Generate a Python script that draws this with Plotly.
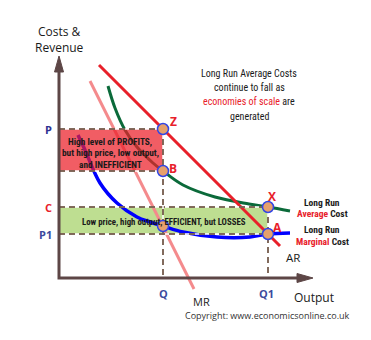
import plotly.graph_objects as go

# Price / cost levels and output levels (chart units)
P_LEVEL = 149
C_LEVEL = 71
P1_LEVEL = 44
Q_OUT = 104
Q1_OUT = 209

# Average revenue (demand) and marginal revenue lines
ar_x = [40, 221]
ar_y = [213, 32]
mr_x = [31, 135]
mr_y = [197, -11]

# Long run average cost
lrac_x = [49, 56, 66, 78, 94, 104, 124, 156, 190, 209, 231]
lrac_y = [192, 170, 148, 131, 115, 107, 93, 81, 74, 71, 67]

# Long run marginal cost
lrmc_x = [19, 26, 41, 58, 78, 91, 104, 124, 158, 191, 209, 231]
lrmc_y = [143, 128, 95, 75, 61, 56, 52, 46, 41, 41, 44, 45]

# Labelled points
pt_x = [Q_OUT, Q_OUT, Q_OUT, Q1_OUT, Q1_OUT]
pt_y = [P_LEVEL, 107, 52, C_LEVEL, P1_LEVEL]

AX_COL = "#5d4646"
DASH_COL = "#5a3b28"
RED = "#e8202a"
NAVY = "#2e3192"
BLUE_LBL = "#3b4a9e"
NARROW = "Roboto Condensed, DejaVu Sans Condensed, sans-serif"
REG = "Open Sans, DejaVu Sans, sans-serif"

fig = go.Figure()

# Loss-making region (green) sits under the curves
fig.add_trace(go.Scatter(
    x=[0, Q1_OUT, Q1_OUT, 0, 0], y=[C_LEVEL, C_LEVEL, P1_LEVEL, P1_LEVEL, C_LEVEL],
    fill="toself", fillcolor="#bede91", line=dict(width=0), mode="lines",
    hoverinfo="skip"))

fig.add_trace(go.Scatter(x=mr_x, y=mr_y, mode="lines",
                         line=dict(color="#f48a8c", width=3), hoverinfo="skip"))
fig.add_trace(go.Scatter(x=lrac_x, y=lrac_y, mode="lines",
                         line=dict(color="#0b6a3a", width=3, shape="spline"), hoverinfo="skip"))
fig.add_trace(go.Scatter(x=lrmc_x, y=lrmc_y, mode="lines",
                         line=dict(color="#0000ff", width=3.5, shape="spline"), hoverinfo="skip"))
fig.add_trace(go.Scatter(x=ar_x, y=ar_y, mode="lines",
                         line=dict(color=RED, width=3), hoverinfo="skip"))

# Profit region (red) drawn semi-transparent over the curves
fig.add_trace(go.Scatter(
    x=[0, Q_OUT, Q_OUT, 0, 0], y=[P_LEVEL, P_LEVEL, 107, 107, P_LEVEL],
    fill="toself", fillcolor="rgba(236,30,40,0.72)", line=dict(width=0), mode="lines",
    hoverinfo="skip"))

# Dashed guide lines: white underlay + brown dashes
guides = [
    ([0, Q_OUT], [P_LEVEL, P_LEVEL]),
    ([0, Q_OUT], [107, 107]),
    ([0, Q1_OUT], [C_LEVEL, C_LEVEL]),
    ([0, Q1_OUT], [P1_LEVEL, P1_LEVEL]),
    ([Q_OUT, Q_OUT], [P_LEVEL, 0]),
    ([Q1_OUT, Q1_OUT], [C_LEVEL, 0]),
]
for gx, gy in guides:
    fig.add_trace(go.Scatter(x=gx, y=gy, mode="lines",
                             line=dict(color="white", width=1.5), hoverinfo="skip"))
    fig.add_trace(go.Scatter(x=gx, y=gy, mode="lines",
                             line=dict(color=DASH_COL, width=1.5, dash="6px,4px"), hoverinfo="skip"))

# Axes with arrowheads
fig.add_trace(go.Scatter(x=[0, 0, 241], y=[207, 0, 0], mode="lines",
                         line=dict(color=AX_COL, width=3), hoverinfo="skip"))
fig.add_trace(go.Scatter(x=[-4.5, 0, 4.5, -4.5], y=[206, 222, 206, 206], mode="lines",
                         fill="toself", fillcolor=AX_COL, line=dict(color=AX_COL, width=1),
                         hoverinfo="skip"))
fig.add_trace(go.Scatter(x=[238, 254, 238, 238], y=[4.5, 0, -4.5, 4.5], mode="lines",
                         fill="toself", fillcolor=AX_COL, line=dict(color=AX_COL, width=1),
                         hoverinfo="skip"))

# Labelled points
fig.add_trace(go.Scatter(x=pt_x, y=pt_y, mode="markers",
                         marker=dict(size=11, color="#e6a06c",
                                     line=dict(color="#3246e6", width=1.5)),
                         hoverinfo="skip"))

ann = []


def txt(x, y, text, size, color="#1a1a1a", family=REG, xanchor="center", yanchor="middle"):
    ann.append(dict(x=x, y=y, xref="x", yref="y", text=text, showarrow=False,
                    font=dict(size=size, color=color, family=family),
                    xanchor=xanchor, yanchor=yanchor))


txt(0, 246.5, "Costs &", 12)
txt(0, 231, "Revenue", 12)
txt(-11, P_LEVEL, "<b>P</b>", 11, NAVY)
txt(-11, C_LEVEL, "<b>C</b>", 11, RED)
txt(-14, P1_LEVEL, "<b>P1</b>", 11, BLUE_LBL)
txt(Q_OUT, -15, "<b>Q</b>", 11, BLUE_LBL)
txt(Q1_OUT - 2, -15, "<b>Q1</b>", 11, BLUE_LBL)
txt(255, -19, "Output", 12)
txt(142, -23, "MR", 11)
txt(234, 21, "AR", 11.5)
txt(208, -37, "Copyright: www.economicsonline.co.uk", 9, "#333333")

for name, px, py, dx, dy in [("Z", Q_OUT, P_LEVEL, 10, 8), ("B", Q_OUT, 107, 10, 3),
                             ("X", Q1_OUT, C_LEVEL, 4, 11), ("A", Q1_OUT, P1_LEVEL, 9, 7)]:
    txt(px + dx, py + dy, f"<b>{name}</b>", 12, RED)

# Curve captions
txt(263, 76, "<b>Long Run</b>", 9.5, family=NARROW)
txt(263, 64.5, f"<b><span style='color:{RED}'>Average</span> Cost</b>", 9.5, family=NARROW)
txt(263, 48.5, "<b>Long Run</b>", 9.5, family=NARROW)
txt(263, 37, f"<b><span style='color:{RED}'>Marginal</span> Cost</b>", 9.5, family=NARROW)

# Notes
txt(190, 205, "Long Run Average Costs", 10, family=NARROW)
txt(190, 191, "continue to fall as", 10, family=NARROW)
txt(190, 176.5, f"<span style='color:{RED}'>economies of scale</span> are", 10, family=NARROW)
txt(190, 162, "generated", 10, family=NARROW)

txt(51, 137, "<b>High level of PROFITS,</b>", 9.3, family=NARROW)
txt(51, 125.5, "<b>but high price, low output,</b>", 9.3, family=NARROW)
txt(51, 114, "<b>and INEFFICIENT</b>", 9.3, family=NARROW)
txt(105, 56, "<b>Low price, high output, EFFICIENT, but LOSSES</b>", 8.8, family=NARROW)

fig.update_layout(
    width=371, height=340,
    margin=dict(l=0, r=0, t=0, b=0),
    paper_bgcolor="white", plot_bgcolor="white",
    showlegend=False,
    xaxis=dict(range=[-59, 312], visible=False, fixedrange=True),
    yaxis=dict(range=[-62, 278], visible=False, fixedrange=True),
    annotations=ann,
)

fig.write_html("out.html")
